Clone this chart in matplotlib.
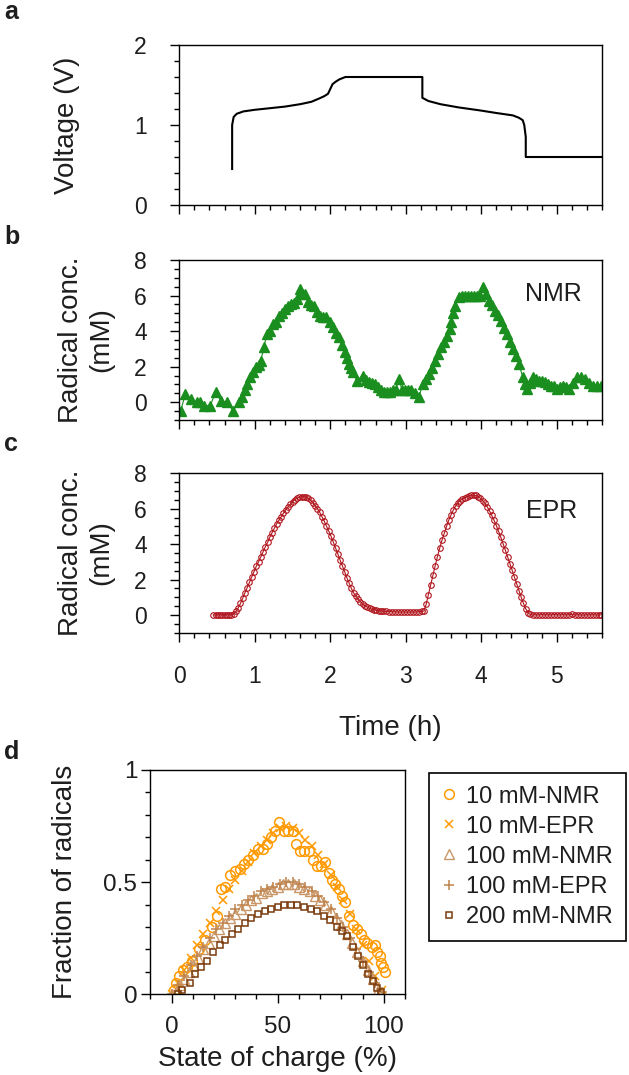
import matplotlib
matplotlib.use("Agg")
import matplotlib.pyplot as plt
from matplotlib.ticker import MultipleLocator, FuncFormatter

plt.rcParams['font.family'] = ['Liberation Sans', 'DejaVu Sans']

# panel a: cell voltage vs time
volt_t = [0.70, 0.70, 0.72, 0.76, 0.85, 1.0, 1.2, 1.4, 1.6, 1.75, 1.85, 1.92, 1.97,
          2.00, 2.03, 2.07, 2.12, 2.20, 3.22, 3.22, 3.30, 3.46, 3.70, 4.00, 4.20,
          4.42, 4.50, 4.55, 4.57, 4.59, 4.59, 5.60]
volt_v = [0.45, 1.00, 1.10, 1.14, 1.17, 1.19, 1.21, 1.23, 1.26, 1.29, 1.33, 1.36, 1.39,
          1.45, 1.51, 1.54, 1.57, 1.60, 1.60, 1.34, 1.30, 1.26, 1.22, 1.18, 1.15,
          1.12, 1.09, 1.06, 1.00, 0.85, 0.60, 0.60]

# panel b: NMR radical concentration
nmr_t = [0.02, 0.08, 0.15, 0.23, 0.28, 0.33, 0.41, 0.48, 0.55, 0.63, 0.71, 0.79, 0.83,
         0.87, 0.90, 0.94, 0.98, 1.02, 1.05, 1.08, 1.12, 1.16, 1.20, 1.24, 1.28, 1.32,
         1.36, 1.40, 1.44, 1.48, 1.52, 1.56, 1.60, 1.63, 1.66, 1.71, 1.75, 1.79, 1.83,
         1.87, 1.91, 1.95, 1.99, 2.03, 2.07, 2.11, 2.15, 2.19, 2.22, 2.25, 2.28, 2.30,
         2.35, 2.43, 2.47, 2.51, 2.55, 2.59, 2.63, 2.67, 2.71, 2.75, 2.79, 2.83, 2.87,
         2.91, 2.95, 2.99, 3.03, 3.07, 3.12, 3.17, 3.23, 3.27, 3.31, 3.35, 3.39, 3.43,
         3.47, 3.51, 3.55, 3.58, 3.60, 3.63, 3.65, 3.70, 3.74, 3.78, 3.82, 3.86, 3.90,
         3.94, 3.98, 4.02, 4.06, 4.10, 4.14, 4.18, 4.22, 4.26, 4.30, 4.34, 4.38, 4.42,
         4.46, 4.50, 4.55, 4.58, 4.61, 4.65, 4.69, 4.73, 4.77, 4.81, 4.85, 4.89, 4.93,
         4.97, 5.01, 5.05, 5.08, 5.12, 5.16, 5.22, 5.27, 5.32, 5.38, 5.43, 5.48, 5.53,
         5.59]
nmr_v = [-0.47, 0.47, 0.19, 0.00, 0.00, -0.19, -0.19, 0.56, 0.09, 0.00, -0.47, 0.00, 0.30,
         0.66, 1.00, 1.40, 1.70, 1.97, 2.10, 2.34, 3.09, 3.84, 4.00, 4.40, 4.50, 4.87,
         5.00, 5.24, 5.40, 5.52, 5.60, 5.80, 6.37, 6.10, 6.09, 5.62, 5.45, 5.43, 5.10,
         4.87, 4.78, 4.78, 4.50, 4.21, 3.90, 3.65, 3.20, 2.81, 2.50, 2.15, 1.90, 1.69,
         1.22, 1.50, 1.25, 1.12, 1.10, 1.03, 0.85, 0.66, 0.60, 0.56, 0.60, 0.66, 0.70,
         1.31, 0.70, 0.66, 0.66, 0.66, 0.50, 0.28, 1.03, 1.30, 1.59, 1.95, 2.34, 2.70,
         3.09, 3.40, 3.75, 4.10, 4.49, 5.00, 5.43, 5.90, 6.00, 6.00, 6.00, 6.00, 6.00,
         6.00, 6.00, 6.46, 6.10, 5.71, 5.45, 5.15, 4.90, 4.59, 4.20, 3.84, 3.40, 3.00,
         2.60, 2.15, 1.40, 1.05, 0.75, 1.10, 1.40, 1.30, 1.22, 1.20, 1.12, 1.05, 0.94,
         0.90, 0.75, 0.85, 0.94, 0.85, 0.75, 1.10, 1.40, 1.40, 1.31, 1.10, 0.94, 0.90,
         0.90]

# panel c: EPR radical concentration
epr_t = [0.45, 0.48, 0.51, 0.54, 0.57, 0.60, 0.63, 0.66, 0.69, 0.72, 0.75, 0.78, 0.81,
         0.84, 0.87, 0.90, 0.93, 0.96, 0.99, 1.02, 1.05, 1.08, 1.11, 1.14, 1.17, 1.20,
         1.23, 1.26, 1.29, 1.32, 1.35, 1.38, 1.41, 1.44, 1.47, 1.50, 1.53, 1.56, 1.59,
         1.62, 1.65, 1.68, 1.71, 1.74, 1.77, 1.80, 1.83, 1.86, 1.89, 1.92, 1.95, 1.98,
         2.01, 2.04, 2.07, 2.10, 2.13, 2.16, 2.19, 2.22, 2.25, 2.28, 2.31, 2.34, 2.37,
         2.40, 2.43, 2.46, 2.49, 2.52, 2.55, 2.58, 2.61, 2.64, 2.67, 2.70, 2.74, 2.78,
         2.82, 2.86, 2.90, 2.94, 2.98, 3.02, 3.06, 3.10, 3.14, 3.18, 3.21, 3.24, 3.27,
         3.30, 3.33, 3.36, 3.39, 3.42, 3.45, 3.48, 3.51, 3.54, 3.57, 3.60, 3.63, 3.66,
         3.69, 3.72, 3.75, 3.78, 3.81, 3.84, 3.87, 3.90, 3.93, 3.96, 3.99, 4.02, 4.05,
         4.08, 4.11, 4.14, 4.17, 4.20, 4.23, 4.26, 4.29, 4.32, 4.35, 4.38, 4.41, 4.44,
         4.47, 4.50, 4.53, 4.56, 4.59, 4.62, 4.65, 4.68, 4.72, 4.76, 4.80, 4.84, 4.88,
         4.92, 4.96, 5.00, 5.04, 5.08, 5.12, 5.16, 5.20, 5.24, 5.28, 5.32, 5.36, 5.40,
         5.44, 5.48, 5.52, 5.56, 5.59]
epr_v = [0.00, 0.00, 0.02, 0.00, 0.01, 0.00, 0.02, 0.00, 0.01, 0.05, 0.20, 0.40, 0.65,
         0.95, 1.25, 1.55, 1.85, 2.15, 2.45, 2.75, 3.00, 3.28, 3.55, 3.85, 4.10, 4.40,
         4.65, 4.90, 5.15, 5.35, 5.55, 5.75, 5.95, 6.10, 6.25, 6.40, 6.52, 6.60, 6.65,
         6.68, 6.68, 6.65, 6.58, 6.48, 6.35, 6.18, 6.00, 5.80, 5.55, 5.30, 5.02, 4.75,
         4.45, 4.12, 3.80, 3.45, 3.10, 2.78, 2.45, 2.10, 1.80, 1.50, 1.25, 1.05, 0.88,
         0.75, 0.62, 0.52, 0.44, 0.38, 0.33, 0.30, 0.27, 0.25, 0.23, 0.22, 0.20, 0.19,
         0.18, 0.17, 0.17, 0.16, 0.17, 0.16, 0.17, 0.16, 0.17, 0.18, 0.20, 0.22, 0.60,
         1.15, 1.70, 2.25, 2.78, 3.30, 3.78, 4.22, 4.62, 5.00, 5.35, 5.65, 5.92, 6.15,
         6.33, 6.45, 6.55, 6.62, 6.67, 6.72, 6.75, 6.77, 6.75, 6.68, 6.58, 6.45, 6.30,
         6.10, 5.88, 5.62, 5.35, 5.05, 4.72, 4.38, 4.02, 3.65, 3.28, 2.90, 2.52, 2.13,
         1.75, 1.38, 1.00, 0.65, 0.35, 0.12, 0.03, 0.00, 0.01, 0.00, 0.02, 0.00, 0.01,
         0.00, 0.02, 0.01, 0.00, 0.02, 0.00, 0.01, 0.03, 0.00, 0.01, 0.00, -0.01, 0.01,
         0.00, 0.01, 0.00, 0.00, 0.01]

# panel d: fraction of radicals vs state of charge
soc_10nmr = [1.1, 1.9, 3.7, 5.3, 7.3, 9.6, 12.7, 15.8, 18.9, 21.3, 23.3, 25.2, 27.5, 29.8,
             32.1, 34.2, 36.0, 38.4, 40.7, 43.0, 45.0, 46.9, 48.8, 50.8, 52.8, 54.7, 57.0,
             58.5, 60.4, 62.4, 64.8, 66.8, 68.6, 70.2, 72.5, 74.1, 75.6, 77.2, 78.7, 80.3,
             81.8, 83.4, 85.7, 87.3, 89.1, 90.7, 92.2, 94.3, 95.8, 96.9, 98.1, 98.9, 99.7,
             100.5]
frac_10nmr = [0.02, 0.05, 0.08, 0.11, 0.12, 0.15, 0.20, 0.24, 0.30, 0.35, 0.47, 0.48, 0.53,
              0.55, 0.56, 0.58, 0.60, 0.62, 0.65, 0.65, 0.67, 0.70, 0.73, 0.77, 0.73, 0.73,
              0.73, 0.67, 0.64, 0.64, 0.64, 0.60, 0.57, 0.57, 0.59, 0.54, 0.51, 0.49, 0.47,
              0.44, 0.41, 0.35, 0.31, 0.29, 0.27, 0.24, 0.23, 0.21, 0.22, 0.19, 0.17, 0.14,
              0.12, 0.10]

soc_10epr = [0, 3, 6, 9, 12, 15, 18, 21, 24, 27, 30, 33, 36, 39, 42, 45, 48, 51, 54, 57,
             60, 63, 66, 69, 72, 75, 78, 81, 84, 87, 90, 93, 96, 99]
frac_10epr = [0.00, 0.05, 0.11, 0.16, 0.22, 0.27, 0.32, 0.37, 0.42, 0.47, 0.51, 0.55,
              0.59, 0.63, 0.66, 0.69, 0.72, 0.74, 0.75, 0.74, 0.72, 0.69, 0.66, 0.62,
              0.58, 0.53, 0.48, 0.42, 0.36, 0.29, 0.22, 0.15, 0.08, 0.02]

soc_100nmr = [0, 2, 4, 6, 8, 10, 12.5, 15, 17.5, 20, 22.5, 25, 27.5, 30, 32.5, 35, 37.5,
              40, 42.5, 45, 47.5, 50, 52.5, 55, 57.5, 60, 62.5, 65, 67.5, 70, 72.5, 75,
              77.5, 80, 82.5, 85, 87.5, 90, 92.5, 95, 97.5, 98.5]
frac_100nmr = [0.00, 0.01, 0.04, 0.07, 0.10, 0.13, 0.16, 0.20, 0.23, 0.26, 0.29, 0.32,
               0.34, 0.36, 0.38, 0.40, 0.42, 0.43, 0.45, 0.46, 0.47, 0.48, 0.49, 0.49,
               0.49, 0.48, 0.47, 0.46, 0.44, 0.42, 0.40, 0.37, 0.34, 0.31, 0.27, 0.23,
               0.19, 0.15, 0.11, 0.07, 0.02, 0.00]

soc_100epr = [0, 3, 6, 9, 12, 15, 18, 21, 24, 27, 30, 33, 36, 39, 42, 45, 48, 51, 54, 57,
              60, 63, 66, 69, 72, 75, 78, 81, 84, 87, 90, 93, 96, 99]
frac_100epr = [0.00, 0.04, 0.08, 0.13, 0.17, 0.21, 0.25, 0.29, 0.32, 0.35, 0.38, 0.40,
               0.42, 0.44, 0.46, 0.47, 0.48, 0.49, 0.50, 0.50, 0.49, 0.48, 0.46, 0.44,
               0.41, 0.38, 0.34, 0.30, 0.25, 0.20, 0.15, 0.10, 0.05, 0.01]

soc_200nmr = [3.1, 5.0, 8.5, 11.2, 14.0, 16.6, 19.7, 22.8, 25.2, 28.3, 31.4, 34.5, 37.6,
              40.7, 43.8, 46.9, 50.0, 53.1, 56.2, 59.3, 62.4, 65.5, 68.6, 71.7, 74.8, 78.0,
              80.3, 82.6, 85.7, 88.0, 90.4, 92.7, 95.0, 96.9, 98.9]
frac_200nmr = [0.00, 0.02, 0.05, 0.09, 0.12, 0.15, 0.19, 0.22, 0.24, 0.27, 0.29, 0.32,
               0.34, 0.36, 0.37, 0.38, 0.39, 0.40, 0.40, 0.40, 0.39, 0.38, 0.37, 0.35,
               0.33, 0.30, 0.28, 0.26, 0.21, 0.17, 0.13, 0.09, 0.06, 0.03, 0.01]

W, H = 629, 1075
fig = plt.figure(figsize=(W / 100, H / 100), dpi=100)

LABEL_FS = 20
TEXT_COLOR = '#1e1e1e'


def px_axes(left, top, right, bottom):
    return fig.add_axes([left / W, 1 - bottom / H, (right - left) / W, (bottom - top) / H])


def style(ax, fs=16.5, ypad=17, xpad=17):
    for s in ax.spines.values():
        s.set_linewidth(1.0)
    ax.tick_params(which='both', direction='out', top=False, right=False, width=1.0,
                   labelsize=fs, labelcolor=TEXT_COLOR)
    ax.tick_params(which='major', length=6.5)
    ax.tick_params(which='minor', length=3.5)
    ax.tick_params(axis='y', pad=ypad)
    ax.tick_params(axis='x', pad=xpad)


ax_a = px_axes(179.3, 45, 602, 205)
ax_b = px_axes(179.3, 260, 602, 420)
ax_c = px_axes(179.3, 473.3, 602, 632.7)
ax_d = px_axes(150.4, 770, 405, 994.3)

ax_a.plot(volt_t, volt_v, color='black', lw=1.5)
ax_a.set_ylim(0, 2)
ax_a.yaxis.set_major_locator(MultipleLocator(1))
ax_a.yaxis.set_minor_locator(MultipleLocator(0.2))
ax_a.set_ylabel('Voltage (V)', fontsize=LABEL_FS, color=TEXT_COLOR)

green = '#1a8f1f'
ax_b.plot(nmr_t, nmr_v, color=green, lw=0.8, marker='^', ms=6.5, mec=green, mfc=green)
ax_b.text(0.885, 0.79, 'NMR', transform=ax_b.transAxes, ha='center', va='center',
          fontsize=18, color=TEXT_COLOR)
ax_b.set_ylabel('Radical conc.\n(mM)', fontsize=LABEL_FS, linespacing=1.2,
                color=TEXT_COLOR)

red = '#b0141c'
ax_c.plot(epr_t, epr_v, color=red, lw=0.8, marker='o', ms=4, mfc='none', mec=red,
          mew=0.8)
ax_c.text(0.88, 0.765, 'EPR', transform=ax_c.transAxes, ha='center', va='center',
          fontsize=18, color=TEXT_COLOR)
ax_c.set_ylabel('Radical conc.\n(mM)', fontsize=LABEL_FS, linespacing=1.2,
                color=TEXT_COLOR)
ax_c.set_xlabel('Time (h)', fontsize=LABEL_FS, labelpad=19, color=TEXT_COLOR)

for ax in (ax_a, ax_b, ax_c):
    ax.set_xlim(0, 5.6)
    ax.xaxis.set_major_locator(MultipleLocator(1))
    ax.xaxis.set_minor_locator(MultipleLocator(0.2))
    style(ax)
ax_a.yaxis.set_label_coords(-0.235, 0.5)
for ax in (ax_b, ax_c):
    ax.set_ylim(-1, 8)
    ax.yaxis.set_major_locator(MultipleLocator(2))
    ax.yaxis.set_minor_locator(MultipleLocator(0.5))
    ax.yaxis.set_label_coords(-0.155, 0.5)
ax_a.tick_params(axis='x', labelbottom=False)
ax_b.tick_params(axis='x', labelbottom=False)

c_orange = '#ff9a00'
c_tan = '#c99768'
c_tan2 = '#c0844e'
c_brown = '#7a3a0c'
ax_d.plot(soc_10nmr, frac_10nmr, ls='none', marker='o', ms=7, mfc='none', mec=c_orange,
          mew=1.1, label='10 mM-NMR')
ax_d.plot(soc_10epr, frac_10epr, ls='none', marker='x', ms=6, mec=c_orange, mew=1.1,
          label='10 mM-EPR')
ax_d.plot(soc_100nmr, frac_100nmr, ls='none', marker='^', ms=6.5, mfc='none', mec=c_tan,
          mew=1.0, label='100 mM-NMR')
ax_d.plot(soc_100epr, frac_100epr, ls='none', marker='+', ms=7, mec=c_tan2, mew=1.1,
          label='100 mM-EPR')
ax_d.plot(soc_200nmr, frac_200nmr, ls='none', marker='s', ms=5, mfc='none', mec=c_brown,
          mew=1.1, label='200 mM-NMR')
ax_d.set_xlim(-10, 110)
ax_d.set_ylim(0, 1)
ax_d.xaxis.set_major_locator(MultipleLocator(50))
ax_d.xaxis.set_minor_locator(MultipleLocator(10))
ax_d.yaxis.set_major_locator(MultipleLocator(0.5))
ax_d.yaxis.set_minor_locator(MultipleLocator(0.1))
ax_d.yaxis.set_major_formatter(FuncFormatter(lambda v, p: '{:g}'.format(v)))
style(ax_d, fs=17.5, ypad=3, xpad=9)
ax_d.set_ylabel('Fraction of radicals', fontsize=LABEL_FS, color=TEXT_COLOR)
ax_d.yaxis.set_label_coords(-0.284, 0.5)
ax_d.set_xlabel('State of charge (%)', fontsize=LABEL_FS, labelpad=6, color=TEXT_COLOR)

leg = fig.legend(handles=ax_d.get_lines(), loc='upper left',
                 bbox_to_anchor=(429.3 / W, 1 - 772.7 / H), fontsize=17,
                 fancybox=False, edgecolor='black', framealpha=1, handlelength=0.6,
                 handletextpad=0.42, labelspacing=0.34, borderpad=0.55, borderaxespad=0)
leg.get_frame().set_linewidth(1.2)
for t in leg.get_texts():
    t.set_color(TEXT_COLOR)

for lab, y in zip('abcd', (12, 237, 444, 752)):
    fig.text(4 / W, 1 - y / H, lab, fontsize=18, fontweight='bold', va='center',
             ha='left', color=TEXT_COLOR)

fig.savefig('out.png', dpi=100)
